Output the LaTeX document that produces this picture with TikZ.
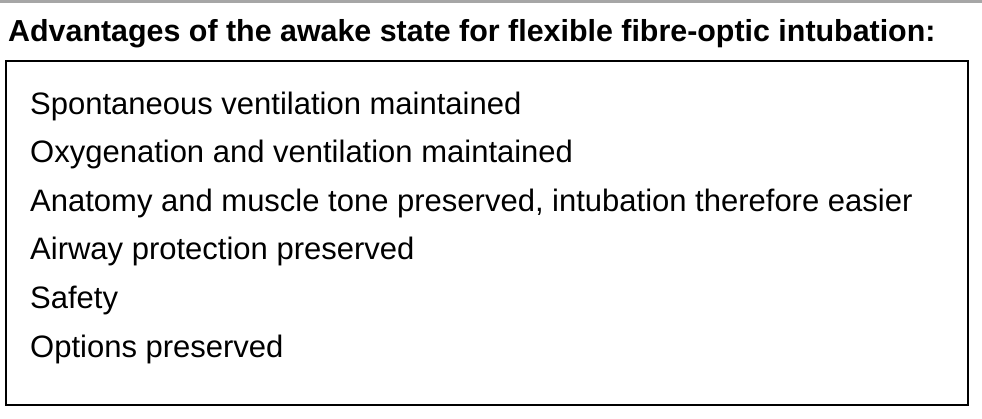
\documentclass[tikz,border=0pt]{standalone}
\usepackage{fontspec}
\setmainfont{Liberation Sans}
\usepackage{tikz}
\usetikzlibrary{positioning}
\tikzstyle{heading} = [anchor=base west, inner sep=0pt, font=\fontsize{30.4}{34}\selectfont\bfseries]
\tikzstyle{item} = [inner sep=0pt, font=\fontsize{31}{36}\selectfont]
\tikzstyle{frame} = [draw=black, line width=2.5pt]

\begin{document}
\begin{tikzpicture}[x=1pt, y=-1pt, node distance=48.6pt]
                                \useasboundingbox (0,0) rectangle (982,418);
                                \fill [black!35] (0,0) rectangle (982,3);
                                \node (title) [heading] at (8,41) {Advantages of the awake state for flexible fibre-optic intubation:};
                                \draw [frame] (6,61) rectangle (968,405);
                                \node (1) [item, anchor=base west] at (30,114) {Spontaneous ventilation maintained};
                                \node (2) [item, below = of 1.base west, anchor=base west] {Oxygenation and ventilation maintained};
                                \node (3) [item, below = of 2.base west, anchor=base west] {Anatomy and muscle tone preserved, intubation therefore easier};
                                \node (4) [item, below = of 3.base west, anchor=base west] {Airway protection preserved};
                                \node (5) [item, below = of 4.base west, anchor=base west] {Safety};
                                \node (6) [item, below = of 5.base west, anchor=base west] {Options preserved};
                            \end{tikzpicture}
\end{document}
